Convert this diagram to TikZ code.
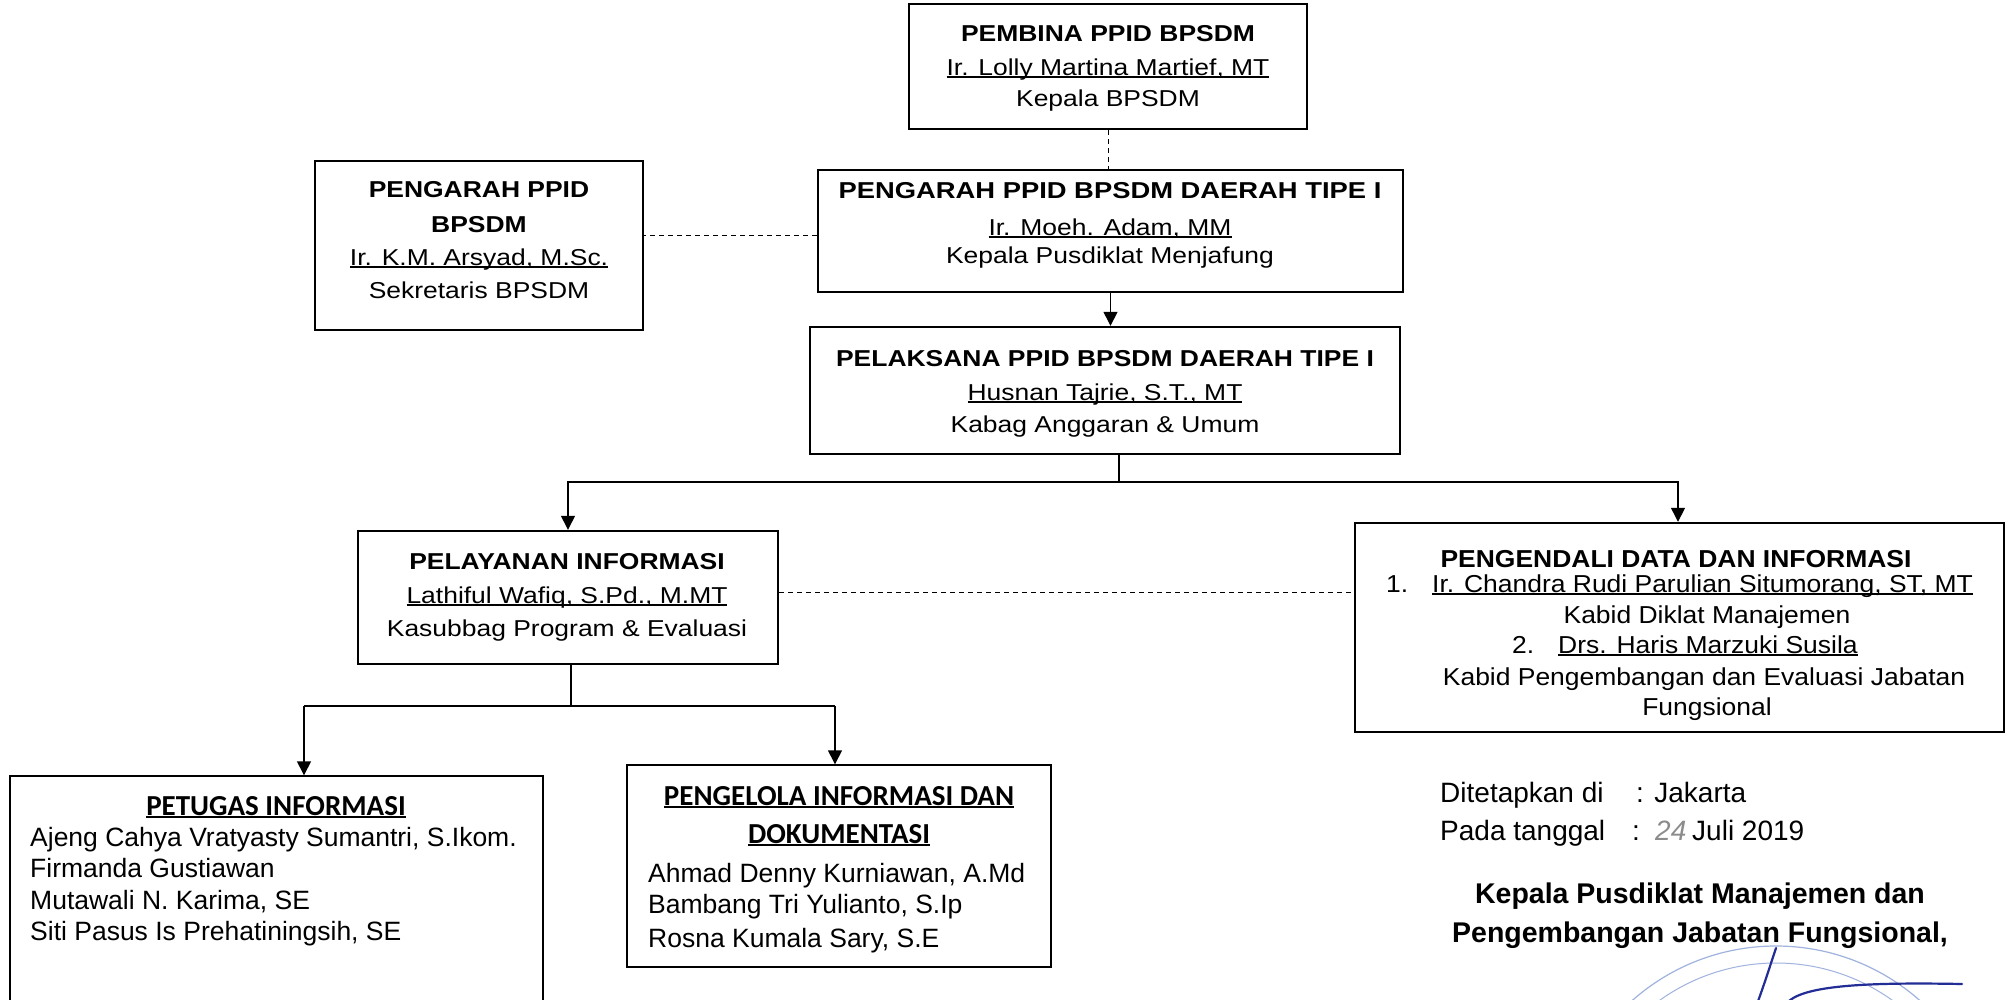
\documentclass[tikz,border=0pt]{standalone}
\usepackage{fontspec}
\setmainfont{Liberation Sans}
\newfontfamily\carlito{Carlito}
\usepackage{graphicx}
\usetikzlibrary{arrows.meta,calc}
\newsavebox\ulbox
\newcommand{\myul}[1]{\sbox\ulbox{#1}\usebox\ulbox\llap{\rule[-0.11em]{\wd\ulbox}{0.065em}}}
\newcommand{\wx}[1]{\scalebox{1.15}[1]{#1}}
\newcommand{\wy}[1]{\scalebox{1.08}[1]{#1}}
\definecolor{stampblue}{RGB}{160,178,222}
\definecolor{signblue}{RGB}{35,45,150}
\definecolor{pencil}{RGB}{140,140,140}
\begin{document}
\begin{tikzpicture}[x=1pt,y=-1pt,
  box/.style={draw, line width=2.4pt, inner sep=0pt},
  lowbox/.style={draw, line width=1.4pt, inner sep=0pt},
  up/.style={anchor=base, inner sep=0pt, font=\fontsize{23}{28}\selectfont},
  upr/.style={anchor=base, inner sep=0pt, font=\fontsize{24.5}{29}\selectfont},
  low/.style={anchor=base west, inner sep=0pt, font=\fontsize{26.5}{31}\selectfont},
  lowt/.style={anchor=base, inner sep=0pt, font=\fontsize{29}{34}\selectfont\carlito\bfseries},
  br/.style={anchor=base west, inner sep=0pt, font=\fontsize{28}{33}\selectfont},
  brb/.style={anchor=base, inner sep=0pt, font=\fontsize{28.5}{33}\selectfont\bfseries},
  conn/.style={line width=1.4pt},
  arr/.style={conn, -{Triangle[length=14pt,width=14pt]}},
  dashline/.style={line width=1pt, dash pattern=on 5pt off 4pt}]
\useasboundingbox (0,0) rectangle (2010,999);
\clip (0,0) rectangle (2010,999);
\fill[white] (0,0) rectangle (2010,999);

% ---- boxes
\node[box, minimum width=398pt, minimum height=125pt] (pembina) at (1108,66.5) {};
\node[box, minimum width=328pt, minimum height=169pt] (pengarah) at (479,245.5) {};
\node[box, minimum width=585pt, minimum height=122pt] (daerah) at (1110.5,231) {};
\node[box, minimum width=590pt, minimum height=127pt] (pelaksana) at (1105,390.5) {};
\node[box, minimum width=420pt, minimum height=133pt] (pelayanan) at (568,597.5) {};
\node[box, minimum width=649pt, minimum height=209pt] (pengendali) at (1679.5,627.5) {};
\node[lowbox, minimum width=533pt, minimum height=240pt] (petugas) at (276.5,896) {};
\node[lowbox, minimum width=424pt, minimum height=202pt] (pengelola) at (839,866) {};

% ---- texts
\node[up] (pembina-1) at (1108,41) {\wx{\bfseries PEMBINA PPID BPSDM}};
\node[up] (pembina-2) at (1108,75) {\wx{\myul{Ir. Lolly Martina Martief, MT}}};
\node[up] (pembina-3) at (1108,106) {\wx{Kepala BPSDM}};

\node[up] (pengarah-1) at (479,197) {\wx{\bfseries PENGARAH PPID}};
\node[up] (pengarah-2) at (479,232) {\wx{\bfseries BPSDM}};
\node[up] (pengarah-3) at (479,265) {\wx{\myul{Ir. K.M. Arsyad, M.Sc.}}};
\node[up] (pengarah-4) at (479,298) {\wx{Sekretaris BPSDM}};

\node[up] (daerah-1) at (1110,198) {\scalebox{1.19}[1]{\bfseries PENGARAH PPID BPSDM DAERAH TIPE I}};
\node[up] (daerah-2) at (1110,235) {\wx{\myul{Ir. Moeh. Adam, MM}}};
\node[up] (daerah-3) at (1110,263) {\wx{Kepala Pusdiklat Menjafung}};

\node[up] (pelaksana-1) at (1105,366) {\wx{\bfseries PELAKSANA PPID BPSDM DAERAH TIPE I}};
\node[up] (pelaksana-2) at (1105,400) {\wx{\myul{Husnan Tajrie, S.T., MT}}};
\node[up] (pelaksana-3) at (1105,432) {\wx{Kabag Anggaran \& Umum}};

\node[up] (pelayanan-1) at (567,569) {\wx{\bfseries PELAYANAN INFORMASI}};
\node[up] (pelayanan-2) at (567,603) {\wx{\myul{Lathiful Wafiq, S.Pd., M.MT}}};
\node[up] (pelayanan-3) at (567,636) {\wx{Kasubbag Program \& Evaluasi}};

\node[upr] (pd-1) at (1676,567) {\wy{\bfseries PENGENDALI DATA DAN INFORMASI}};
\node[upr, anchor=base west] (pd-2n) at (1386,592) {\wy{1.}};
\node[upr, anchor=base west] (pd-2) at (1432,592) {\wy{\myul{Ir. Chandra Rudi Parulian Situmorang, ST, MT}}};
\node[upr] (pd-3) at (1707,623) {\wy{Kabid Diklat Manajemen}};
\node[upr, anchor=base west] (pd-4n) at (1512,653) {\wy{2.}};
\node[upr, anchor=base west] (pd-4) at (1558,653) {\wy{\myul{Drs. Haris Marzuki Susila}}};
\node[upr] (pd-5) at (1704,685) {\wy{Kabid Pengembangan dan Evaluasi Jabatan}};
\node[upr] (pd-6) at (1707,715) {\wy{Fungsional}};

\node[lowt] (pt-1) at (276,815) {\myul{PETUGAS INFORMASI}};
\node[low] (pt-2) at (30,846) {Ajeng Cahya Vratyasty Sumantri, S.Ikom.};
\node[low] (pt-3) at (30,877) {Firmanda Gustiawan};
\node[low] (pt-4) at (30,909) {Mutawali N. Karima, SE};
\node[low] (pt-5) at (30,940) {Siti Pasus Is Prehatiningsih, SE};

\node[lowt] (pg-1) at (839,805) {\myul{PENGELOLA INFORMASI DAN}};
\node[lowt] (pg-2) at (839,843) {\myul{DOKUMENTASI}};
\node[low] (pg-3) at (648,882) {Ahmad Denny Kurniawan, A.Md};
\node[low] (pg-4) at (648,913) {Bambang Tri Yulianto, S.Ip};
\node[low] (pg-5) at (648,947) {Rosna Kumala Sary, S.E};

% ---- connectors
\draw[dashline] (pembina.south) -- (pembina.south |- daerah.north);
\draw[dashline] ($(daerah.west)+(0,4)$) -- ($(daerah.west -| pengarah.east)+(0,4)$);
\draw[arr] (daerah.south) -- (daerah.south |- pelaksana.north);
\coordinate (split1) at (1119,482);
\draw[conn] (split1 |- pelaksana.south) -- (split1);
\draw[arr] (split1) -| (pelayanan.north);
\draw[arr] (split1) -| ($(pengendali.north)+(-1.5,0)$);
\draw[dashline] ($(pelayanan.east)+(0,-5)$) -- ($(pelayanan.east -| pengendali.west)+(0,-5)$);
\coordinate (split2) at (571,706);
\coordinate (leftdrop) at (304,706);
\coordinate (rightdrop) at (835,706);
\draw[conn] (split2 |- pelayanan.south) -- (split2);
\draw[conn] (leftdrop) -- (rightdrop);
\draw[arr] (leftdrop) -- (leftdrop |- petugas.north);
\draw[arr] (rightdrop) -- (rightdrop |- pengelola.north);

% ---- signature block
\node[br] (dit-1) at (1440,802) {Ditetapkan di};
\node[br] (dit-2) at (1636,802) {: Jakarta};
\node[br] (tgl-1) at (1440,840) {Pada tanggal};
\node[br] (tgl-2) at (1632,840) {:};
\node[br, text=pencil, font=\fontsize{28}{33}\selectfont\itshape] (tgl-3) at (1655,840) {24};
\node[br] (tgl-4) at (1692,840) {Juli 2019};
\node[brb] (kep-1) at (1700,903) {Kepala Pusdiklat Manajemen dan};
\node[brb] (kep-2) at (1700,942) {Pengembangan Jabatan Fungsional,};

\draw[stampblue, line width=1.2pt] (1776,1163) circle[radius=217pt];
\draw[stampblue, line width=1pt] (1776,1163) circle[radius=200pt];
\draw[signblue, line width=2.2pt, line cap=round] (1776,948) .. controls (1770,966) and (1764,985) .. (1757,1004);
\draw[signblue, line width=2.2pt, line cap=round] (1786,1004) .. controls (1800,986) and (1860,982) .. (1962,984);
\end{tikzpicture}
\end{document}
